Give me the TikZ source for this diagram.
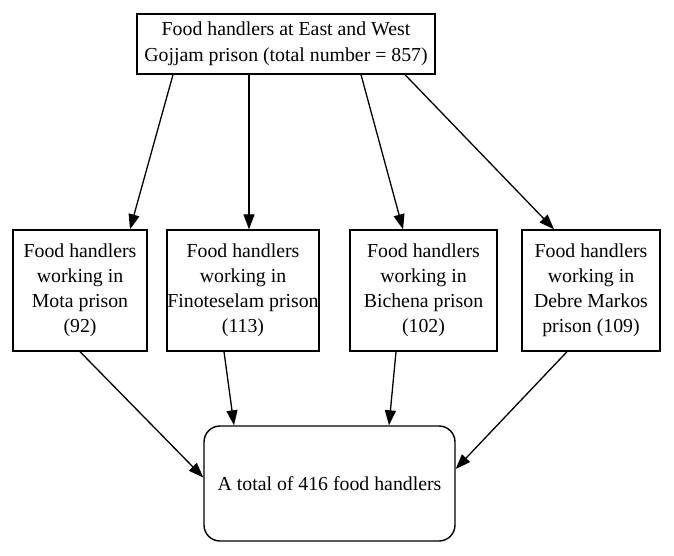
\documentclass[tikz,border=0pt]{standalone}
\usepackage{fontspec}
\setmainfont{Liberation Serif}
\usetikzlibrary{arrows.meta}

\begin{document}
\begin{tikzpicture}[x=1pt,y=-1pt,
  box/.style={draw,line width=1.4pt,align=center,inner sep=0pt,
    font=\fontsize{19.8}{25}\selectfont},
  arr/.style={-{Triangle[length=15pt,width=11pt]},line width=1.3pt}]
  \useasboundingbox (0,0) rectangle (674,556);
  % source and prisons
  \node[box,minimum width=298pt,minimum height=60pt] (all) at (286,44)
    {Food handlers at East and West\\[1pt]Gojjam prison (total number = 857)};
  \node[box,minimum width=134pt,minimum height=121pt] (mota) at (80,290.5)
    {Food handlers\\working in\\Mota prison\\(92)};
  \node[box,minimum width=152pt,minimum height=121pt] (fino) at (243,290.5)
    {Food handlers\\working in\\Finoteselam prison\\(113)};
  \node[box,minimum width=147pt,minimum height=121pt] (bich) at (423.5,290.5)
    {Food handlers\\working in\\Bichena prison\\(102)};
  \node[box,minimum width=138pt,minimum height=121pt] (debre) at (591,290.5)
    {Food handlers\\working in\\Debre Markos\\prison (109)};
  \node[box,rounded corners=16pt,minimum width=251pt,minimum height=115pt] (total) at (329.5,483.5)
    {A total of 416 food handlers};
  % arrows
  \draw[arr] ([xshift=-113pt]all.south) -- ([xshift=50pt]mota.north);
  \draw[arr] ([xshift=-37pt]all.south) -- ([xshift=6pt]fino.north);
  \draw[arr] ([xshift=75pt]all.south) -- ([xshift=-20.5pt]bich.north);
  \draw[arr] ([xshift=119pt]all.south) -- ([xshift=-37pt]debre.north);
  \draw[arr] (mota.south) -- ([yshift=6pt]total.west);
  \draw[arr] ([xshift=-19pt]fino.south) -- ([xshift=-95.5pt]total.north);
  \draw[arr] ([xshift=-27.5pt]bich.south) -- ([xshift=59.5pt]total.north);
  \draw[arr] ([xshift=-24pt]debre.south) -- ([yshift=14.5pt]total.east);
\end{tikzpicture}
\end{document}
